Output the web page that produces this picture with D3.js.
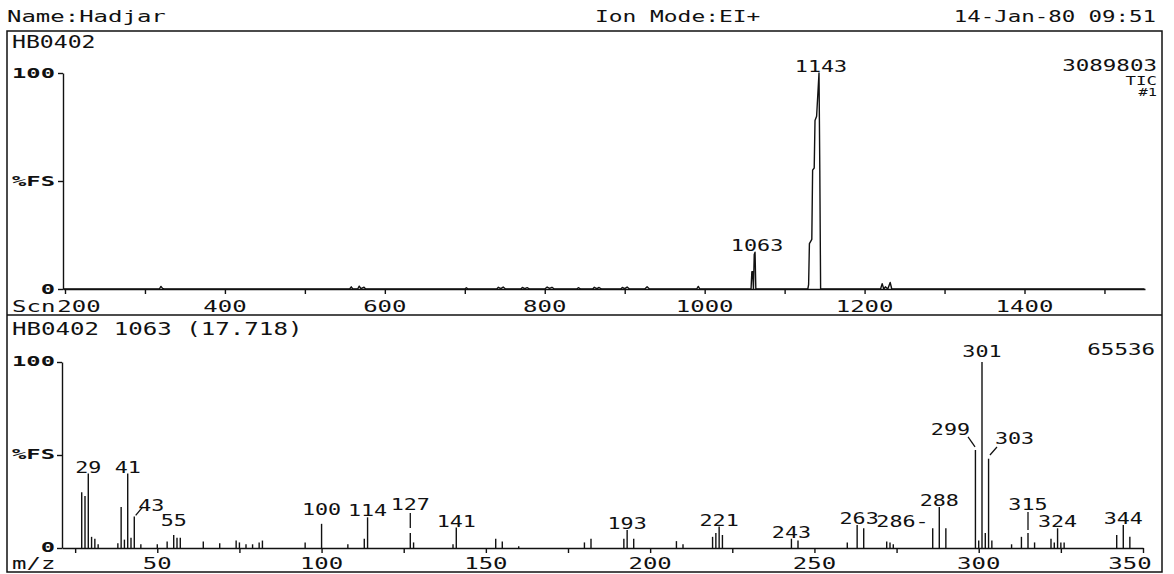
<!DOCTYPE html>
<html>
<head>
<meta charset="utf-8">
<script src="https://cdn.jsdelivr.net/npm/d3@7"></script>
<style>
  html, body { margin: 0; padding: 0; background: #fff; }
  svg text { font-family: "DejaVu Sans Mono", "Liberation Mono", monospace; fill: #111; }
</style>
</head>
<body>
<svg id="chart" width="1174" height="574"></svg>
<script>
// ---- run header ----
const sampleName = "Name:Hadjar";
const ionMode = "Ion Mode:EI+";
const runDate = "14-Jan-80 09:51";
const ticTitle = "HB0402";
const spectrumTitle = "HB0402 1063 (17.718)";
const ticFullScale = "3089803";
const ticTags = ["TIC", "#1"];
const spectrumFullScale = "65536";

// ---- total ion chromatogram: scan number vs % full scale ----
const ticScans = [198, 318, 320, 322, 324, 556, 558, 560, 566, 568, 570, 574, 576,
  700, 702, 704, 740, 742, 745, 748, 751, 770, 772, 775, 778, 781, 800, 803, 806, 809, 812,
  840, 842, 845, 860, 862, 865, 868, 871, 895, 897, 900, 903, 906, 925, 928, 931, 990, 992, 994,
  1058, 1059, 1060, 1061, 1062, 1063, 1064,
  1129, 1130, 1131, 1134, 1135, 1137, 1138, 1140, 1143, 1144, 1145,
  1220, 1222, 1224, 1226, 1229, 1232, 1234, 1550];
const ticPercent = [0, 0, 1.2, 0.3, 0, 0, 1.0, 0, 0, 1.3, 0.2, 0.8, 0,
  0, 0.6, 0, 0, 0.8, 0.2, 0.9, 0, 0, 0.7, 0.2, 0.6, 0, 0, 0.9, 0.3, 0.8, 0,
  0, 0.6, 0, 0, 0.8, 0.2, 0.7, 0, 0, 0.7, 0.2, 0.9, 0, 0, 1.0, 0, 0, 1.2, 0,
  0, 8, 8, 0, 16, 17, 0,
  0, 2, 21, 23, 55, 56, 78, 80, 100, 55, 0,
  0, 2.5, 0, 1, 0, 3, 0, 0];
const ticLabelledScans = [1063, 1143];
const scanTicks = [200, 300, 400, 500, 600, 700, 800, 900, 1000, 1100, 1200, 1300, 1400, 1500];
const scanTickLabels = [200, 400, 600, 800, 1000, 1200, 1400];

// ---- mass spectrum of scan 1063: m/z vs relative intensity ----
const mzValues = [27, 28, 29, 30, 31, 32, 38, 39, 40, 41, 42, 43, 45, 50, 53, 55, 56, 57,
  64, 69, 74, 75, 77, 79, 81, 82, 95, 100, 108, 113, 114, 127, 128, 140, 141, 153, 155, 160,
  180, 182, 192, 193, 195, 208, 210, 219, 220, 221, 222, 243, 245, 260, 263, 265, 272, 273, 274,
  286, 288, 290, 299, 300, 301, 302, 303, 304, 310, 313, 315, 317, 322, 323, 324, 325, 326,
  342, 344, 346];
const mzIntensity = [30, 28, 40, 6, 5, 2, 2.5, 22, 4.5, 40, 5.5, 17, 2, 2, 3.5, 7, 5.5, 5.5,
  3.5, 2.5, 4, 3, 2, 2, 3, 4, 3, 13, 2, 5, 16.5, 8, 3, 2, 11, 5, 3.5, 1,
  3, 5, 5, 9.7, 5, 3.7, 2, 6, 8, 11.5, 7, 5, 4, 3, 12.4, 10.6, 3.5, 3, 2,
  10.6, 22, 10.6, 52.7, 4, 100, 8, 48, 4, 2, 6, 8, 3, 5, 3, 10.6, 3, 3,
  7, 12.4, 6];
const labelledMz = [29, 41, 43, 55, 100, 114, 127, 141, 193, 221, 243, 263, 286, 288,
  299, 301, 303, 315, 324, 344];
const mzTicks = [25, 50, 75, 100, 125, 150, 175, 200, 225, 250, 275, 300, 325, 350];
const mzTickLabels = [50, 100, 150, 200, 250, 300, 350];
const percentTicks = [0, 50, 100];

// ---- drawing ----
const svg = d3.select("#chart");
const ink = "#111";

// monospaced plotter-style text, widened horizontally
function say(g, str, x, y, o = {}) {
  const size = o.size || 15, sx = o.sx || 1.45;
  return g.append("text")
    .attr("transform", `translate(${x},${y}) scale(${sx},1)`)
    .attr("text-anchor", o.anchor || "start")
    .style("font-size", size + "px")
    .style("font-weight", o.weight || "normal")
    .text(str);
}
function seg(g, x1, y1, x2, y2, w = 1.4) {
  g.append("line").attr("x1", x1).attr("y1", y1).attr("x2", x2).attr("y2", y2)
    .attr("stroke", ink).attr("stroke-width", w);
}

// header line
say(svg, sampleName, 7, 21.5, { size: 16, sx: 1.5 });
say(svg, ionMode, 595, 22, { size: 16, sx: 1.43 });
say(svg, runDate, 1156, 22, { size: 16, sx: 1.4, anchor: "end" });

// outer frame and panel divider
svg.append("rect").attr("x", 7).attr("y", 31).attr("width", 1155).attr("height", 541)
  .attr("fill", "none").attr("stroke", ink).attr("stroke-width", 1.5);
seg(svg, 7, 315, 1162, 315, 1.5);

// ===== upper panel: TIC =====
const ticPanel = svg.append("g");
const xTop = d3.scaleLinear().domain([197.5, 1550.7]).range([63, 1145]);
const yTop = d3.scaleLinear().domain([0, 100]).range([289, 73]);

say(ticPanel, ticTitle, 12, 48, { size: 17, sx: 1.36 });

ticPanel.append("g").attr("transform", `translate(0,${yTop(0)})`)
  .call(d3.axisBottom(xTop).tickValues(scanTicks).tickSize(5).tickSizeOuter(0).tickFormat(""))
  .call(g => g.selectAll("path,line").attr("stroke", ink).attr("stroke-width", 1.4));
ticPanel.append("g").attr("transform", `translate(${xTop.range()[0]},0)`)
  .call(d3.axisLeft(yTop).tickValues(percentTicks).tickSize(5).tickSizeOuter(0).tickFormat(""))
  .call(g => g.selectAll("path,line").attr("stroke", ink).attr("stroke-width", 1.4));

percentTicks.forEach(v => say(ticPanel, v === 50 ? "%FS" : String(v), 55, yTop(v) + 4.5,
  { size: 14, sx: 1.7, anchor: "end", weight: "bold" }));
say(ticPanel, "Scn", 12, 311.5, { size: 15.5, sx: 1.55 });
scanTickLabels.forEach((v, i) => {
  const x = xTop(v) + (i === 0 ? 14 : 0);
  say(ticPanel, String(v), x, 311.5, { size: 15.5, sx: 1.55, anchor: "middle" });
});

const ticLine = d3.line().x(i => xTop(ticScans[i])).y(i => yTop(ticPercent[i]));
ticPanel.append("path").attr("d", ticLine(d3.range(ticScans.length)))
  .attr("fill", "none").attr("stroke", ink).attr("stroke-width", 1.4).attr("stroke-linejoin", "round");

ticLabelledScans.forEach(s => {
  const i = ticScans.indexOf(s);
  say(ticPanel, String(s), xTop(s) + 2, yTop(ticPercent[i]) - 1.5, { size: 15, sx: 1.45, anchor: "middle" });
});

say(ticPanel, ticFullScale, 1157, 71, { size: 15, sx: 1.5, anchor: "end" });
say(ticPanel, ticTags[0], 1157, 85, { size: 12, sx: 1.45, anchor: "end" });
say(ticPanel, ticTags[1], 1157, 96, { size: 11, sx: 1.4, anchor: "end" });

// ===== lower panel: mass spectrum =====
const msPanel = svg.append("g");
const xBot = d3.scaleLinear().domain([21, 350]).range([62, 1143]);
const yBot = d3.scaleLinear().domain([0, 100]).range([548, 362]);

say(msPanel, spectrumTitle, 12, 335, { size: 17, sx: 1.42 });

msPanel.append("g").attr("transform", `translate(0,${yBot(0)})`)
  .call(d3.axisBottom(xBot).tickValues(mzTicks).tickSize(5).tickSizeOuter(0).tickFormat(""))
  .call(g => g.selectAll("path,line").attr("stroke", ink).attr("stroke-width", 1.4));
msPanel.append("g").attr("transform", `translate(${xBot.range()[0]},0)`)
  .call(d3.axisLeft(yBot).tickValues(percentTicks).tickSize(5).tickSizeOuter(0).tickFormat(""))
  .call(g => g.selectAll("path,line").attr("stroke", ink).attr("stroke-width", 1.4));

percentTicks.forEach(v => say(msPanel, v === 50 ? "%FS" : String(v), 55, yBot(v) + 3.5,
  { size: 14, sx: 1.7, anchor: "end", weight: "bold" }));
say(msPanel, "m/z", 12, 569, { size: 15, sx: 1.6 });
mzTickLabels.forEach((v, i) => {
  const x = xBot(v) + (i === mzTickLabels.length - 1 ? -13 : 0);
  say(msPanel, String(v), x, 569, { size: 15, sx: 1.6, anchor: "middle" });
});

// stick spectrum
msPanel.append("g").selectAll("line").data(d3.range(mzValues.length)).join("line")
  .attr("x1", i => xBot(mzValues[i])).attr("x2", i => xBot(mzValues[i]))
  .attr("y1", yBot(0)).attr("y2", i => yBot(mzIntensity[i]))
  .attr("stroke", ink).attr("stroke-width", 1.4);

// peak annotations: text offsets and leader strokes relative to each peak top
const labelLayout = {
  43: { dx: 17, dy: -5, leader: [1.4, -1, 8.5, -9.5] },
  55: { dy: -9 },
  100: { dy: -9 },
  127: { dy: -23, leader: [0, -5, 0, -20] },
  263: { dx: 2 },
  286: { dx: -4, dy: -1, anchor: "end", suffix: "-" },
  299: { dx: -25, dy: -15, leader: [-7.4, -13, -0.4, -3] },
  301: { dy: -5 },
  303: { dx: 26, dy: -15, leader: [1.4, -3.7, 8.4, -11.7] },
  315: { dy: -23, leader: [0, -3, 0, -21] }
};
labelledMz.forEach(mz => {
  const i = mzValues.indexOf(mz);
  const px = xBot(mz), py = yBot(mzIntensity[i]);
  const L = Object.assign({ dx: 0, dy: -1, anchor: "middle", suffix: "" }, labelLayout[mz] || {});
  if (L.leader) seg(msPanel, px + L.leader[0], py + L.leader[1], px + L.leader[2], py + L.leader[3], 1.3);
  say(msPanel, String(mz) + L.suffix, px + L.dx, py + L.dy, { size: 15, sx: 1.45, anchor: L.anchor });
});

say(msPanel, spectrumFullScale, 1155, 355, { size: 15, sx: 1.5, anchor: "end" });
</script>
</body>
</html>
